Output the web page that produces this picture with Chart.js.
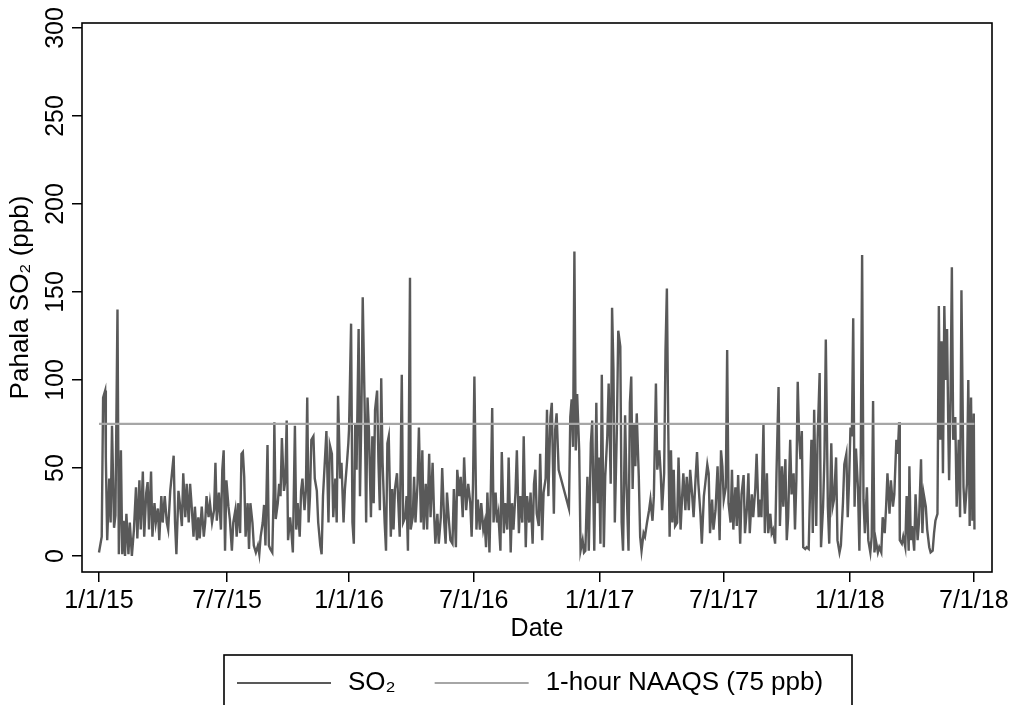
<!DOCTYPE html>
<html>
<head>
<meta charset="utf-8">
<title>Pahala SO2</title>
<script src="https://cdn.jsdelivr.net/npm/chart.js"></script>
<style>
    body { margin: 0; background: #fff; }
</style>
</head>
<body>
<canvas id="so2Chart" width="1016" height="705"></canvas>

<script>
// days since 1/1/15
const sampleDays = [
    0,4,6,9,10,12,15,17,19,22,24,27,29,32,34,36,38,40,43,45,48,51,54,56,59,61,64,66,69,71,73,76,78,81,83,86,88,91,93,96,99,101,104,106,109,111,113,116,118,121,123,126,128,131,133,135,138,140,143,145,147,150,153,155,157,160,162,165,168,170,172,175,
    178,180,182,184,186,189,191,194,196,199,201,203,206,208,210,212,214,217,219,221,224,226,229,232,234,236,239,241,243,246,248,250,253,255,256,258,261,263,265,267,270,272,274,276,279,281,283,286,288,290,293,295,297,300,302,304,306,308,310,313,315,318,320,323,325,327,330,332,335,337,340,342,345,347,349,352,
    354,357,359,362,364,365,368,370,372,374,376,379,381,383,385,388,390,392,394,397,399,401,403,406,408,410,412,414,417,419,421,423,426,428,430,432,435,437,439,442,444,447,449,451,454,455,458,460,462,465,467,470,472,474,477,479,482,484,487,489,491,494,496,499,501,504,506,508,511,513,516,518,521,523,526,528,531,533,536,
    539,542,544,546,548,551,553,556,558,561,563,565,567,570,572,574,576,579,581,583,586,588,591,593,596,598,601,603,605,608,610,613,615,618,620,623,625,628,630,633,635,637,639,642,644,647,649,652,654,656,659,661,664,666,668,671,686,688,690,692,694,696,698,701,703,706,708,710,713,715,718,720,
    723,726,728,730,732,734,737,739,742,744,747,749,751,753,756,758,761,763,765,768,770,773,775,777,779,781,783,785,788,790,792,795,797,800,803,805,808,810,813,815,818,820,822,825,827,829,831,833,835,837,839,841,844,846,849,851,853,856,858,861,863,866,868,871,873,875,878,880,883,885,888,890,892,895,897,900,
    903,906,908,910,912,915,917,919,922,924,926,929,931,933,936,938,941,943,946,948,950,953,955,958,960,963,965,967,970,972,975,977,980,982,984,987,989,992,994,997,999,1002,1004,1006,1009,1011,1014,1016,1018,1020,1022,1024,1026,1028,1031,1033,1036,1038,1040,1042,1044,1047,1049,1052,1054,1057,1059,1061,1064,1066,1069,1071,1073,1076,1078,1081,
    1083,1086,1088,1091,1093,1095,1097,1099,1101,1103,1105,1108,1110,1112,1114,1116,1118,1121,1123,1126,1128,1130,1132,1134,1137,1139,1142,1144,1147,1149,1151,1154,1156,1159,1161,1164,1166,1168,1169,1172,1174,1177,1179,1182,1183,1185,1187,1190,1192,1195,1197,1200,1202,1204,1207,1209,1212,1214,1217,1219,1221,1224,1226,1228,1230,1232,1234,1236,1238,1240,1241,1243,1245,1247,1250,1252,1255,1257,1259,1262,1264,1267,1269,1271,1273,1275,1277,1278
];

// SO2 in ppb, same order as sampleDays
const so2Values = [
    2,11,90,94,56,9,44,19,74,16,23,140,1,60,1,20,0,24,1,19,0,15,39,10,43,15,48,11,36,42,15,48,11,30,19,27,9,34,19,34,19,15,37,45,57,19,1,37,30,17,47,22,41,19,41,30,11,28,9,22,10,28,11,19,34,22,30,19,26,53,20,36,
    15,49,60,3,43,28,21,3,19,26,11,30,13,58,59,45,11,30,4,30,19,6,2,6,1,11,19,29,6,63,6,4,2,37,76,21,30,41,34,67,37,43,77,9,22,13,2,74,15,30,11,37,44,26,37,90,19,34,66,68,44,37,19,6,1,34,56,71,19,63,58,22,44,19,91,44,
    53,19,38,53,64,72,132,19,7,75,49,129,34,79,147,81,19,90,72,22,68,30,83,94,53,26,101,53,19,3,64,68,11,38,15,38,47,30,11,103,19,22,34,3,158,15,22,45,19,41,73,19,60,15,41,15,58,22,53,26,7,24,7,22,50,19,7,36,19,9,7,38,5,49,34,45,22,56,26,
    41,30,11,41,102,15,32,15,30,15,19,5,36,2,38,84,19,36,19,24,3,59,13,30,15,56,2,30,15,36,60,13,34,19,68,5,34,19,36,7,41,49,24,17,58,9,36,44,83,34,79,87,24,72,81,49,27,79,89,62,173,60,92,60,3,9,2,3,45,3,64,77,
    3,87,30,56,7,103,5,45,68,98,41,141,106,19,72,128,119,19,3,80,41,3,87,102,38,75,51,81,45,11,3,13,11,19,26,32,20,34,98,49,60,47,26,47,117,152,73,11,60,19,49,17,19,56,15,32,47,26,45,26,49,34,22,45,59,41,24,7,34,41,52,47,13,32,15,26,
    51,9,60,51,32,39,117,30,19,49,15,39,17,46,7,35,46,13,28,47,13,35,22,38,58,22,32,22,75,13,47,13,24,13,15,7,47,96,17,51,28,55,9,22,66,35,47,15,43,99,68,55,71,5,4,5,4,37,66,13,83,17,66,104,5,28,56,123,28,7,64,28,32,56,9,2,
    6,30,52,58,22,43,73,68,135,28,61,38,3,56,171,32,13,39,9,2,11,88,2,9,2,5,2,22,13,28,47,24,43,28,35,66,58,76,9,7,11,5,34,3,51,9,17,3,35,9,19,55,13,35,28,15,5,2,3,13,20,24,142,66,122,47,142,100,129,66,43,88,164,66,79,28,66,22,151,39,24,41,100,17,90,20,81,15
];

const naaqsLevel = 75;
const naaqsDays = [0, 1278];

const tickDays = [0, 187, 365, 547, 731, 912, 1096, 1277];
const tickLabels = ['1/1/15', '7/7/15', '1/1/16', '7/1/16', '1/1/17', '7/1/17', '1/1/18', '7/1/18'];
const yTicks = [0, 50, 100, 150, 200, 250, 300];

const FONT = '"Liberation Sans", Arial, Helvetica, sans-serif';

// box round the plot, upright-turned y labels and the boxed legend
const stataLook = {
    id: 'stataLook',
    afterDraw(chart) {
        const ctx = chart.ctx;
        const area = chart.chartArea;
        const yScale = chart.scales.y;
        ctx.save();
        ctx.strokeStyle = '#000';
        ctx.lineWidth = 1.6;
        ctx.strokeRect(area.left, area.top, area.right - area.left, area.bottom - area.top);

        ctx.fillStyle = '#000';
        ctx.font = '25px ' + FONT;
        ctx.textAlign = 'center';
        ctx.textBaseline = 'middle';
        yTicks.forEach(v => {
            ctx.save();
            ctx.translate(56, yScale.getPixelForValue(v));
            ctx.rotate(-Math.PI / 2);
            ctx.fillText(String(v), 0, 0);
            ctx.restore();
        });

        // legend
        ctx.lineWidth = 1.6;
        ctx.strokeStyle = '#000';
        ctx.strokeRect(224, 655, 628, 70);
        ctx.font = '26px ' + FONT;
        ctx.textAlign = 'left';
        let x = 237;
        const ly = 683;
        chart.data.datasets.forEach(ds => {
            ctx.strokeStyle = ds.borderColor;
            ctx.lineWidth = 2.2;
            ctx.beginPath();
            ctx.moveTo(x, ly);
            ctx.lineTo(x + 94, ly);
            ctx.stroke();
            x += 111;
            ctx.fillText(ds.label, x, ly);
            x += ctx.measureText(ds.label).width + 39;
        });
        ctx.restore();
    }
};

new Chart(document.getElementById('so2Chart'), {
    type: 'line',
    data: {
        datasets: [{
            label: 'SO₂',
            data: sampleDays.map((d, i) => ({ x: d, y: so2Values[i] })),
            borderColor: '#595959',
            borderWidth: 2.4,
            pointRadius: 0,
            tension: 0,
            order: 1
        }, {
            label: '1-hour NAAQS (75 ppb)',
            data: naaqsDays.map(d => ({ x: d, y: naaqsLevel })),
            borderColor: '#a6a6a6',
            borderWidth: 2.2,
            pointRadius: 0,
            order: 0
        }]
    },
    options: {
        responsive: false,
        animation: false,
        devicePixelRatio: 1,
        layout: { padding: { left: 0, right: 24, top: 23, bottom: 61 } },
        plugins: {
            legend: { display: false },
            tooltip: { enabled: false }
        },
        scales: {
            x: {
                type: 'linear',
                min: -24.8,
                max: 1303.6,
                afterBuildTicks: scale => { scale.ticks = tickDays.map(v => ({ value: v })); },
                afterFit: scale => { scale.height = 72; },
                border: { display: false },
                grid: { drawOnChartArea: false, drawTicks: true, tickLength: 10, color: '#000', lineWidth: 1.5 },
                ticks: {
                    autoSkip: false,
                    maxRotation: 0,
                    minRotation: 0,
                    padding: 4,
                    color: '#000',
                    font: { family: FONT, size: 25 },
                    callback: value => tickLabels[tickDays.indexOf(value)]
                },
                title: {
                    display: true,
                    text: 'Date',
                    color: '#000',
                    font: { family: FONT, size: 25 },
                    padding: { top: 0, bottom: 0 }
                }
            },
            y: {
                type: 'linear',
                min: -9.1,
                max: 302.8,
                afterBuildTicks: scale => { scale.ticks = yTicks.map(v => ({ value: v })); },
                afterFit: scale => { scale.width = 82; },
                border: { display: false },
                grid: { drawOnChartArea: false, drawTicks: true, tickLength: 10, color: '#000', lineWidth: 1.5 },
                ticks: { display: false },
                title: {
                    display: true,
                    text: 'Pahala SO₂ (ppb)',
                    color: '#000',
                    font: { family: FONT, size: 26 },
                    padding: { top: 5, bottom: 0 }
                }
            }
        }
    },
    plugins: [stataLook]
});
</script>
</body>
</html>
